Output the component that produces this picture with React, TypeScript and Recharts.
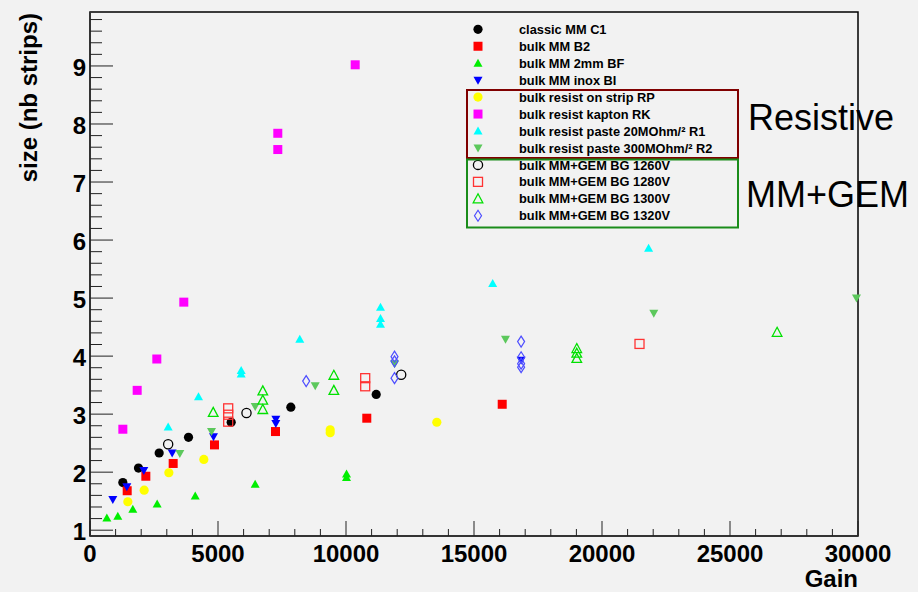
import React from 'react';
import { ReferenceArea, Scatter, ScatterChart, XAxis, YAxis } from 'recharts';

const FONT = '"Liberation Sans", Arial, Helvetica, sans-serif';

// [gain, size]
const classicC1 = [[1283, 1.82], [1894, 2.07], [2702, 2.33], [3848, 2.6], [5515, 2.86], [7845, 3.12], [11180, 3.34]];
const bulkB2 = [[1453, 1.68], [2181, 1.93], [3249, 2.15], [4863, 2.47], [7246, 2.7], [10812, 2.93], [16102, 3.17]];
const bulkBF = [[658, 1.21], [1087, 1.24], [1673, 1.36], [2623, 1.45], [4110, 1.59], [6452, 1.79], [10020, 1.97], [10020, 1.91]];
const bulkBI = [[892, 1.53], [1439, 1.75], [2103, 2.03], [3210, 2.33], [4824, 2.61], [7259, 2.91], [7259, 2.84], [16840, 3.93]];
const resistRP = [[1478, 1.49], [2116, 1.69], [3080, 1.99], [4447, 2.22], [9383, 2.73], [9383, 2.68], [13547, 2.86]];
const resistRK = [[1283, 2.74], [1843, 3.41], [2610, 3.95], [3664, 4.93], [7336, 7.84], [7336, 7.56], [10359, 9.02]];
const resistR1 = [[3053, 2.78], [4238, 3.3], [5905, 3.75], [5905, 3.69], [8195, 4.29], [11348, 4.84], [11348, 4.65], [11348, 4.55], [15730, 5.25], [21820, 5.86]];
const resistR2 = [[3509, 2.32], [4746, 2.7], [6452, 3.13], [8797, 3.49], [11900, 3.87], [16230, 4.29], [22023, 4.74], [29940, 5.0]];
const gem1260 = [[3053, 2.48], [6113, 3.02], [12156, 3.68]];
const gem1280 = [[5398, 3.1], [5398, 2.99], [5398, 2.87], [10750, 3.62], [10750, 3.48], [21465, 4.21]];
const gem1300 = [[4813, 3.03], [6750, 3.4], [6750, 3.24], [6750, 3.08], [9525, 3.67], [9525, 3.41], [19015, 4.13], [19015, 4.05], [19015, 3.96], [26840, 4.41]];
const gem1320 = [[8444, 3.57], [11895, 3.99], [11895, 3.91], [11895, 3.62], [16840, 4.25], [16840, 3.98], [16840, 3.87], [16840, 3.81]];

const xMajor = [0, 5000, 10000, 15000, 20000, 25000, 30000];
const yMajor = [1, 2, 3, 4, 5, 6, 7, 8, 9];

const xTicks: number[] = [];
for (let i = 0; i <= 30; i++) xTicks.push(i * 1000);
const yTicks: number[] = [];
for (let k = 5; k <= 49; k++) yTicks.push(k / 5);

type Kind = 'circle' | 'square' | 'up' | 'down' | 'ocircle' | 'osquare' | 'oup' | 'odiamond';

const series: { name: string; pts: number[][]; kind: Kind; color: string }[] = [
  { name: 'classic MM C1', pts: classicC1, kind: 'circle', color: '#000000' },
  { name: 'bulk MM B2', pts: bulkB2, kind: 'square', color: '#ff0000' },
  { name: 'bulk MM 2mm BF', pts: bulkBF, kind: 'up', color: '#00ee00' },
  { name: 'bulk MM inox BI', pts: bulkBI, kind: 'down', color: '#0000ff' },
  { name: 'bulk resist on strip RP', pts: resistRP, kind: 'circle', color: '#ffff00' },
  { name: 'bulk resist kapton RK', pts: resistRK, kind: 'square', color: '#ff00ff' },
  { name: 'bulk resist paste 20MOhm/\u00b2 R1', pts: resistR1, kind: 'up', color: '#00ffff' },
  { name: 'bulk resist paste 300MOhm/\u00b2 R2', pts: resistR2, kind: 'down', color: '#5cc85c' },
  { name: 'bulk MM+GEM BG 1260V', pts: gem1260, kind: 'ocircle', color: '#000000' },
  { name: 'bulk MM+GEM BG 1280V', pts: gem1280, kind: 'osquare', color: '#ff3333' },
  { name: 'bulk MM+GEM BG 1300V', pts: gem1300, kind: 'oup', color: '#00e000' },
  { name: 'bulk MM+GEM BG 1320V', pts: gem1320, kind: 'odiamond', color: '#4d4dff' },
];

const drawMarker = (kind: Kind, color: string, cx: number, cy: number) => {
  switch (kind) {
    case 'circle':
      return <circle cx={cx} cy={cy} r={4.6} fill={color} />;
    case 'square':
      return <rect x={cx - 4.5} y={cy - 4.5} width={9} height={9} fill={color} />;
    case 'up':
      return <polygon points={`${cx},${cy - 4.5} ${cx + 4.5},${cy + 3.5} ${cx - 4.5},${cy + 3.5}`} fill={color} />;
    case 'down':
      return <polygon points={`${cx},${cy + 4.5} ${cx + 4.5},${cy - 3.5} ${cx - 4.5},${cy - 3.5}`} fill={color} />;
    case 'ocircle':
      return <circle cx={cx} cy={cy} r={4.6} fill="none" stroke={color} strokeWidth={1.3} />;
    case 'osquare':
      return <rect x={cx - 4.5} y={cy - 4.5} width={9} height={9} fill="none" stroke={color} strokeWidth={1.3} />;
    case 'oup':
      return <polygon points={`${cx},${cy - 5} ${cx + 4.8},${cy + 4} ${cx - 4.8},${cy + 4}`} fill="none" stroke={color} strokeWidth={1.3} />;
    case 'odiamond':
    default:
      return <polygon points={`${cx},${cy - 5.5} ${cx + 3.5},${cy} ${cx},${cy + 5.5} ${cx - 3.5},${cy}`} fill="none" stroke={color} strokeWidth={1.2} />;
  }
};

const XTick = (props: any) => {
  const { x, y, payload } = props;
  const v = payload.value as number;
  const major = v % 5000 === 0;
  return (
    <g>
      <line x1={x} x2={x} y1={y} y2={y - (major ? 15 : 7)} stroke="#222" strokeWidth={1} />
      {major && (
        <text x={x} y={y + 25.5} textAnchor="middle" fontSize={24} fontWeight="bold" fontFamily={FONT} fill="#000">
          {v}
        </text>
      )}
    </g>
  );
};

const YTick = (props: any) => {
  const { x, y, payload } = props;
  const v = payload.value as number;
  const major = yMajor.includes(v);
  return (
    <g>
      <line x1={x} x2={x + (major ? 23 : 12)} y1={y} y2={y} stroke="#222" strokeWidth={1} />
      {major && (
        <text x={x - 4} y={y + 10} textAnchor="end" fontSize={24} fontWeight="bold" fontFamily={FONT} fill="#000">
          {v}
        </text>
      )}
    </g>
  );
};

const App: React.FC = () => {
  return (
    <div style={{ position: 'absolute', left: 0, top: 0, width: 918, height: 592, background: '#f2f2f2', overflow: 'hidden' }}>
      <ScatterChart width={918} height={592} margin={{ top: 12, right: 60, left: 0, bottom: 0 }}>
        <XAxis
          type="number"
          dataKey="x"
          domain={[0, 30000]}
          ticks={xTicks}
          interval={0}
          height={56}
          tickSize={0}
          tickMargin={0}
          tickLine={false}
          tick={<XTick />}
          axisLine={{ stroke: '#333', strokeWidth: 2 }}
        />
        <YAxis
          type="number"
          dataKey="y"
          domain={[0.9, 9.93]}
          ticks={yTicks}
          interval={0}
          width={90}
          tickSize={0}
          tickMargin={0}
          tickLine={false}
          tick={<YTick />}
          axisLine={{ stroke: '#333', strokeWidth: 2 }}
        />
        <ReferenceArea x1={0} x2={30000} y1={0.9} y2={9.93} fill="none" stroke="#000" strokeWidth={1.5} />
        {series.map((s) => (
          <Scatter
            key={s.name}
            name={s.name}
            data={s.pts.map(([x, y]) => ({ x, y }))}
            isAnimationActive={false}
            shape={(p: any) => drawMarker(s.kind, s.color, p.cx, p.cy)}
          />
        ))}
      </ScatterChart>
      <svg width={918} height={592} style={{ position: 'absolute', left: 0, top: 0, pointerEvents: 'none' }}>
        <text
          transform="translate(37,13) rotate(-90)"
          textAnchor="end"
          fontSize={24}
          fontWeight="bold"
          fontFamily={FONT}
          fill="#000"
        >
          size (nb strips)
        </text>
        <text x={858} y={587} textAnchor="end" fontSize={24} fontWeight="bold" fontFamily={FONT} fill="#000">
          Gain
        </text>
        {series.map((s, i) => {
          const cy = 29.3 + i * 16.95;
          return (
            <g key={s.name}>
              {drawMarker(s.kind, s.color, 478, cy)}
              <text x={519} y={cy + 4.6} fontSize={12.8} fontWeight="bold" fontFamily={FONT} fill="#000">
                {s.name}
              </text>
            </g>
          );
        })}
        <rect x={467} y={90} width={271} height={68} fill="none" stroke="#800000" strokeWidth={2} />
        <rect x={467} y={159.5} width={271} height={68} fill="none" stroke="#1a8c1a" strokeWidth={2} />
        <text x={748} y={130} fontSize={36} fontFamily={FONT} fill="#000">
          Resistive
        </text>
        <text x={746} y={206.7} fontSize={36} fontFamily={FONT} fill="#000">
          MM+GEM
        </text>
      </svg>
    </div>
  );
};

export default App;
